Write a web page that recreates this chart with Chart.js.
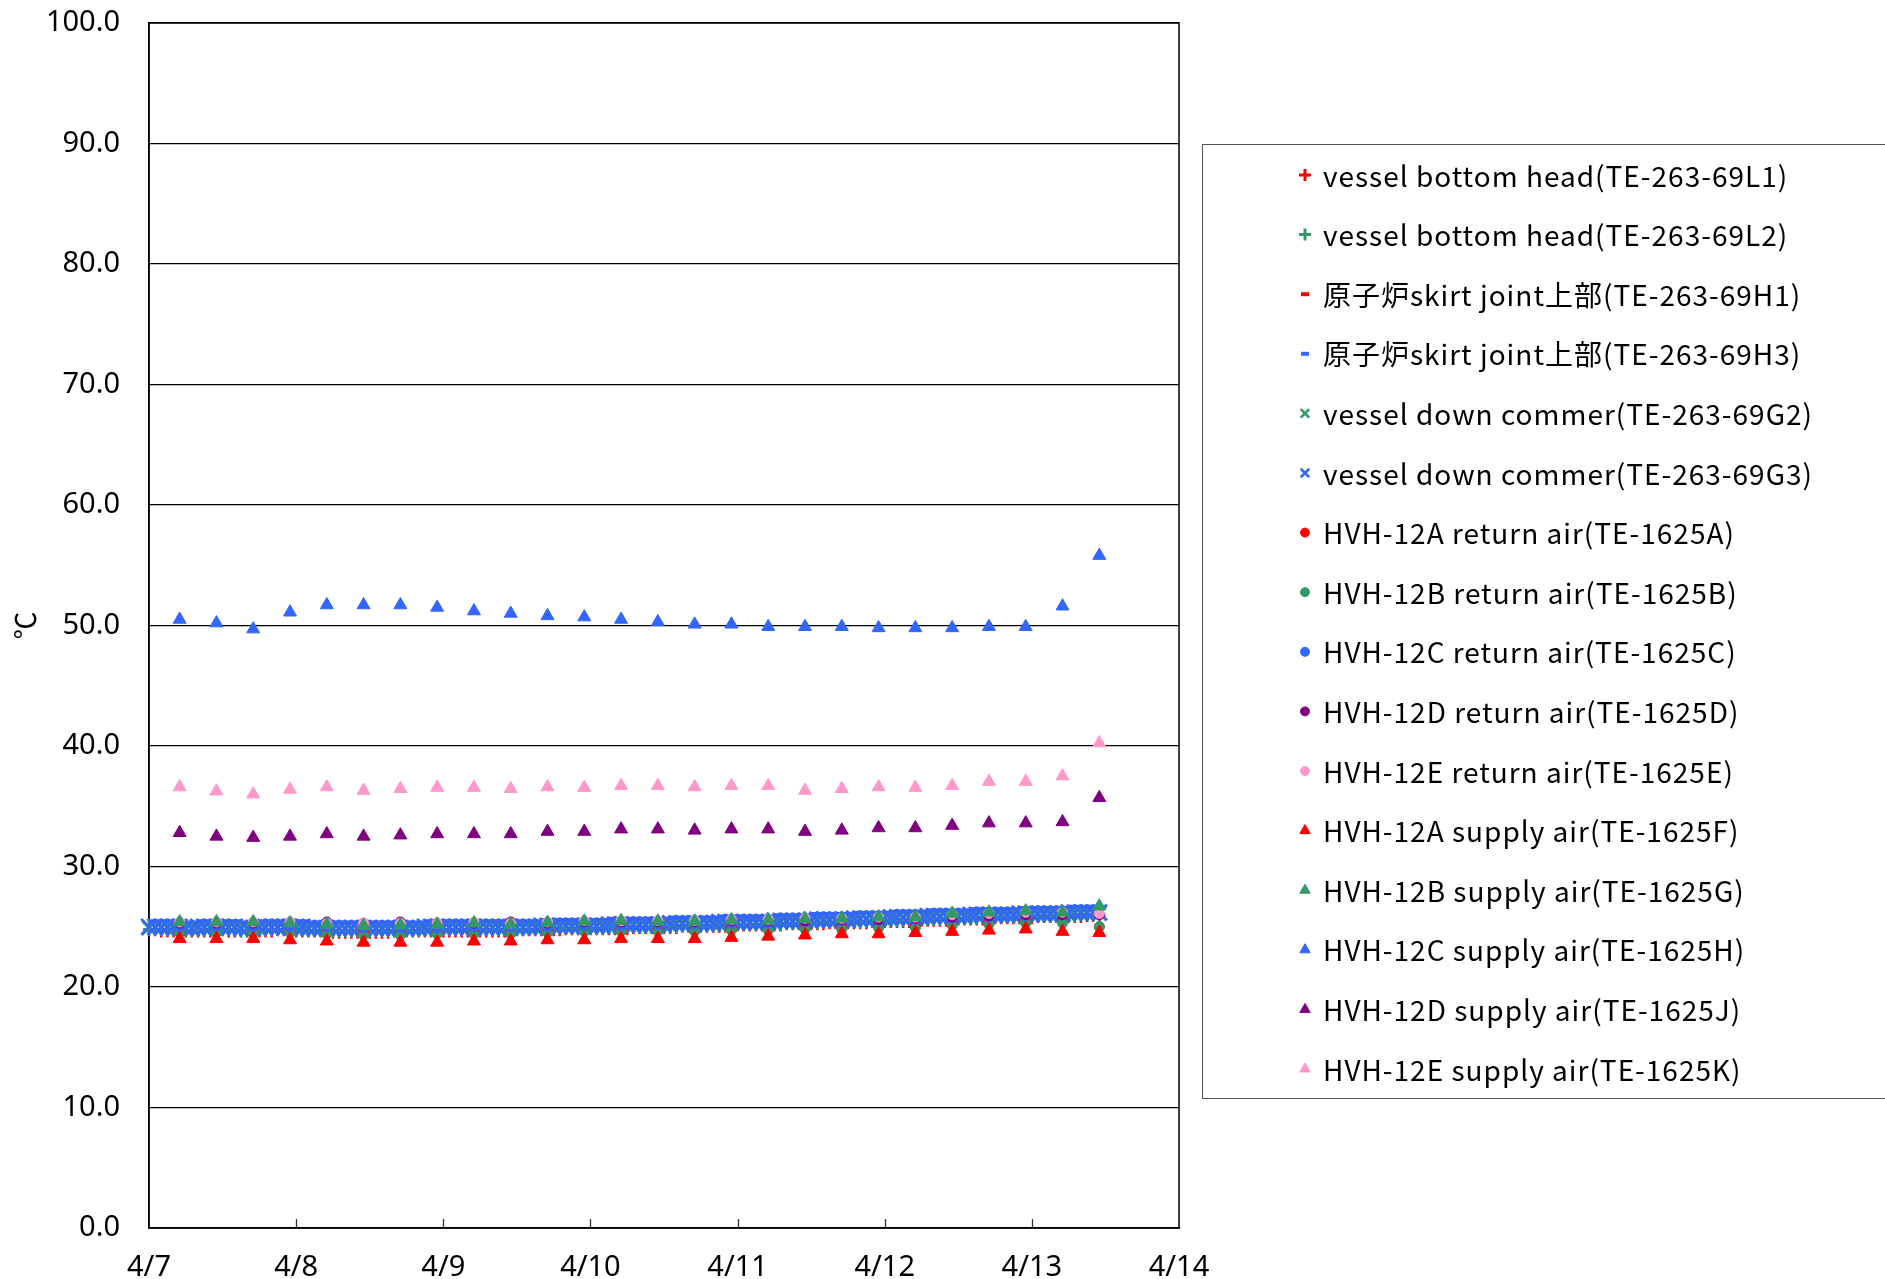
<!DOCTYPE html>
<html><head><meta charset="utf-8">
<script src="https://cdn.jsdelivr.net/npm/chart.js@4.4.0/dist/chart.umd.min.js"></script>
<style>html,body{margin:0;padding:0;background:#fff;}#wrap{width:1885px;height:1279px;position:relative;}</style>
</head><body><div id="wrap"><canvas id="c" width="1885" height="1279"></canvas></div>
<script>
// ---- tick labels / categories ----
const dayLabels = ['4/7','4/8','4/9','4/10','4/11','4/12','4/13','4/14'];
const yTitle = '℃';
// sample times, hours after 4/7 0:00
const hoursHourly = [
 0,1,2,3,4,5,6,7,8,9,10,11,12,13,14,15,16,17,18,19,20,21,22,23,
 24,25,26,27,28,29,30,31,32,33,34,35,36,37,38,39,40,41,42,43,44,45,46,47,
 48,49,50,51,52,53,54,55,56,57,58,59,60,61,62,63,64,65,66,67,68,69,70,71,
 72,73,74,75,76,77,78,79,80,81,82,83,84,85,86,87,88,89,90,91,92,93,94,95,
 96,97,98,99,100,101,102,103,104,105,106,107,108,109,110,111,112,113,114,115,116,117,118,119,
 120,121,122,123,124,125,126,127,128,129,130,131,132,133,134,135,136,137,138,139,140,141,142,143,
 144,145,146,147,148,149,150,151,152,153,154,155];
const hours6h = [5,11,17,23,29,35,41,47,53,59,65,71,77,83,89,95,101,107,113,119,125,131,137,143,149,155];

// ---- series labels ----
const seriesLabels = [
 'vessel bottom head(TE-263-69L1)',
 'vessel bottom head(TE-263-69L2)',
 '原子炉skirt joint上部(TE-263-69H1)',
 '原子炉skirt joint上部(TE-263-69H3)',
 'vessel down commer(TE-263-69G2)',
 'vessel down commer(TE-263-69G3)',
 'HVH-12A return air(TE-1625A)',
 'HVH-12B return air(TE-1625B)',
 'HVH-12C return air(TE-1625C)',
 'HVH-12D return air(TE-1625D)',
 'HVH-12E return air(TE-1625E)',
 'HVH-12A supply air(TE-1625F)',
 'HVH-12B supply air(TE-1625G)',
 'HVH-12C supply air(TE-1625H)',
 'HVH-12D supply air(TE-1625J)',
 'HVH-12E supply air(TE-1625K)'
];

// ---- hourly series ----
const teL1 = [
 24.7,24.7,24.6,24.6,24.6,24.6,24.6,24.6,24.6,24.6,24.6,24.7, 24.7,24.6,24.6,24.6,24.6,24.6,24.6,24.6,24.6,24.7,24.7,24.7,
 24.6,24.6,24.6,24.6,24.6,24.5,24.5,24.5,24.5,24.5,24.5,24.5, 24.5,24.5,24.5,24.5,24.6,24.6,24.6,24.6,24.6,24.6,24.6,24.6,
 24.6,24.6,24.6,24.6,24.6,24.6,24.6,24.6,24.6,24.6,24.6,24.7, 24.7,24.7,24.7,24.7,24.7,24.7,24.7,24.7,24.8,24.8,24.8,24.8,
 24.8,24.8,24.8,24.8,24.8,24.8,24.8,24.9,24.9,24.9,24.9,24.9, 24.9,24.9,24.9,25.0,25.0,25.0,25.0,25.0,25.0,25.0,25.0,25.0,
 25.1,25.1,25.1,25.1,25.1,25.1,25.1,25.1,25.2,25.2,25.2,25.2, 25.2,25.2,25.2,25.3,25.3,25.3,25.3,25.3,25.3,25.3,25.4,25.4,
 25.4,25.4,25.4,25.4,25.4,25.5,25.5,25.5,25.5,25.5,25.5,25.6, 25.6,25.6,25.6,25.6,25.6,25.7,25.7,25.7,25.7,25.7,25.7,25.7,
 25.7,25.8,25.8,25.8,25.8,25.8,25.8,25.8,25.8,25.9,25.9,25.9];
const teL2 = [
 24.8,24.8,24.7,24.7,24.7,24.7,24.7,24.7,24.7,24.7,24.8,24.8, 24.8,24.8,24.7,24.7,24.7,24.7,24.7,24.7,24.8,24.8,24.8,24.8,
 24.7,24.7,24.7,24.7,24.7,24.7,24.6,24.6,24.6,24.6,24.6,24.6, 24.6,24.7,24.7,24.7,24.7,24.7,24.7,24.7,24.7,24.7,24.7,24.7,
 24.8,24.8,24.8,24.8,24.7,24.7,24.7,24.7,24.7,24.8,24.8,24.8, 24.8,24.8,24.8,24.8,24.8,24.8,24.9,24.9,24.9,24.9,24.9,24.9,
 24.9,24.9,24.9,24.9,24.9,25.0,25.0,25.0,25.0,25.0,25.0,25.0, 25.0,25.0,25.0,25.1,25.1,25.1,25.1,25.1,25.1,25.1,25.1,25.2,
 25.2,25.2,25.2,25.2,25.2,25.2,25.2,25.2,25.3,25.3,25.3,25.3, 25.3,25.3,25.4,25.4,25.4,25.4,25.4,25.4,25.4,25.4,25.5,25.5,
 25.5,25.5,25.5,25.5,25.6,25.6,25.6,25.6,25.6,25.6,25.7,25.7, 25.7,25.7,25.7,25.7,25.7,25.8,25.8,25.8,25.8,25.8,25.8,25.8,
 25.9,25.9,25.9,25.9,25.9,25.9,25.9,25.9,26.0,26.0,26.0,26.0];
const teH1 = [
 25.4,25.4,25.4,25.4,25.4,25.4,25.3,25.3,25.4,25.4,25.4,25.4, 25.4,25.4,25.4,25.3,25.3,25.3,25.4,25.4,25.4,25.4,25.4,25.4,
 25.4,25.4,25.3,25.3,25.3,25.3,25.3,25.3,25.3,25.3,25.3,25.3, 25.3,25.3,25.3,25.3,25.3,25.3,25.3,25.3,25.3,25.4,25.4,25.4,
 25.4,25.4,25.4,25.4,25.4,25.4,25.4,25.4,25.4,25.4,25.4,25.4, 25.4,25.4,25.4,25.4,25.5,25.5,25.5,25.5,25.5,25.5,25.5,25.5,
 25.5,25.5,25.5,25.6,25.6,25.6,25.6,25.6,25.6,25.6,25.6,25.6, 25.6,25.7,25.7,25.7,25.7,25.7,25.7,25.7,25.7,25.8,25.8,25.8,
 25.8,25.8,25.8,25.8,25.8,25.8,25.9,25.9,25.9,25.9,25.9,25.9, 26.0,26.0,26.0,26.0,26.0,26.0,26.0,26.1,26.1,26.1,26.1,26.1,
 26.1,26.2,26.2,26.2,26.2,26.2,26.2,26.3,26.3,26.3,26.3,26.3, 26.3,26.3,26.4,26.4,26.4,26.4,26.4,26.4,26.4,26.4,26.5,26.5,
 26.5,26.5,26.5,26.5,26.5,26.5,26.6,26.6,26.6,26.6,26.6,26.6];
const teH3 = [
 25.5,25.5,25.5,25.5,25.5,25.5,25.4,25.4,25.5,25.5,25.5,25.5, 25.5,25.5,25.5,25.4,25.4,25.4,25.5,25.5,25.5,25.5,25.5,25.5,
 25.5,25.5,25.4,25.4,25.4,25.4,25.4,25.4,25.4,25.4,25.4,25.4, 25.4,25.4,25.4,25.4,25.4,25.4,25.4,25.4,25.4,25.5,25.5,25.5,
 25.5,25.5,25.5,25.5,25.5,25.5,25.5,25.5,25.5,25.5,25.5,25.5, 25.5,25.5,25.5,25.5,25.6,25.6,25.6,25.6,25.6,25.6,25.6,25.6,
 25.6,25.6,25.6,25.7,25.7,25.7,25.7,25.7,25.7,25.7,25.7,25.7, 25.7,25.8,25.8,25.8,25.8,25.8,25.8,25.8,25.8,25.9,25.9,25.9,
 25.9,25.9,25.9,25.9,25.9,25.9,26.0,26.0,26.0,26.0,26.0,26.0, 26.1,26.1,26.1,26.1,26.1,26.1,26.1,26.2,26.2,26.2,26.2,26.2,
 26.2,26.3,26.3,26.3,26.3,26.3,26.3,26.4,26.4,26.4,26.4,26.4, 26.4,26.4,26.5,26.5,26.5,26.5,26.5,26.5,26.5,26.5,26.6,26.6,
 26.6,26.6,26.6,26.6,26.6,26.6,26.7,26.7,26.7,26.7,26.7,26.7];
const teG2 = [
 24.9,24.9,24.9,24.9,24.8,24.8,24.8,24.8,24.8,24.9,24.9,24.9, 24.9,24.9,24.9,24.8,24.8,24.8,24.8,24.9,24.9,24.9,24.9,24.9,
 24.9,24.8,24.8,24.8,24.8,24.8,24.8,24.8,24.8,24.8,24.8,24.8, 24.8,24.8,24.8,24.8,24.8,24.8,24.8,24.8,24.8,24.8,24.9,24.9,
 24.9,24.9,24.9,24.9,24.9,24.9,24.9,24.9,24.9,24.9,24.9,24.9, 24.9,24.9,24.9,24.9,24.9,25.0,25.0,25.0,25.0,25.0,25.0,25.0,
 25.0,25.0,25.0,25.0,25.1,25.1,25.1,25.1,25.1,25.1,25.1,25.1, 25.1,25.1,25.2,25.2,25.2,25.2,25.2,25.2,25.2,25.2,25.3,25.3,
 25.3,25.3,25.3,25.3,25.3,25.3,25.3,25.4,25.4,25.4,25.4,25.4, 25.4,25.5,25.5,25.5,25.5,25.5,25.5,25.5,25.6,25.6,25.6,25.6,
 25.6,25.6,25.7,25.7,25.7,25.7,25.7,25.7,25.8,25.8,25.8,25.8, 25.8,25.8,25.8,25.9,25.9,25.9,25.9,25.9,25.9,25.9,25.9,26.0,
 26.0,26.0,26.0,26.0,26.0,26.0,26.0,26.1,26.1,26.1,26.1,26.1];
const teG3 = [
 25.0,25.0,25.0,25.0,25.0,25.0,24.9,24.9,25.0,25.0,25.0,25.0, 25.0,25.0,25.0,24.9,24.9,24.9,25.0,25.0,25.0,25.0,25.0,25.0,
 25.0,25.0,24.9,24.9,24.9,24.9,24.9,24.9,24.9,24.9,24.9,24.9, 24.9,24.9,24.9,24.9,24.9,24.9,24.9,24.9,24.9,25.0,25.0,25.0,
 25.0,25.0,25.0,25.0,25.0,25.0,25.0,25.0,25.0,25.0,25.0,25.0, 25.0,25.0,25.0,25.0,25.1,25.1,25.1,25.1,25.1,25.1,25.1,25.1,
 25.1,25.1,25.1,25.2,25.2,25.2,25.2,25.2,25.2,25.2,25.2,25.2, 25.2,25.3,25.3,25.3,25.3,25.3,25.3,25.3,25.3,25.4,25.4,25.4,
 25.4,25.4,25.4,25.4,25.4,25.4,25.5,25.5,25.5,25.5,25.5,25.5, 25.6,25.6,25.6,25.6,25.6,25.6,25.6,25.7,25.7,25.7,25.7,25.7,
 25.7,25.8,25.8,25.8,25.8,25.8,25.8,25.9,25.9,25.9,25.9,25.9, 25.9,25.9,26.0,26.0,26.0,26.0,26.0,26.0,26.0,26.0,26.1,26.1,
 26.1,26.1,26.1,26.1,26.1,26.1,26.2,26.2,26.2,26.2,26.2,26.2];

// ---- 6-hourly series ----
const retA = [24.5,24.5,24.5,24.6,24.5,24.5,24.5,24.5,24.5,24.5,24.6,24.7,24.7,24.8,24.8,24.9,24.9,25.0,25.0,25.1,25.1,25.3,25.4,25.5,25.5,25.0];
const retB = [24.5,24.5,24.5,24.5,24.4,24.3,24.3,24.4,24.4,24.4,24.5,24.6,24.6,24.6,24.6,24.7,24.7,24.8,24.8,24.9,24.9,25.1,25.2,25.3,25.3,25.0];
const retC = [25.0,25.0,25.0,25.0,25.0,24.9,24.9,24.9,25.0,25.0,25.0,25.1,25.1,25.2,25.2,25.3,25.3,25.4,25.5,25.5,25.6,25.7,25.8,25.9,26.0,26.0];
const retD = [25.3,25.3,25.3,25.4,25.4,25.3,25.4,25.3,25.3,25.4,25.3,25.4,25.4,25.4,25.4,25.5,25.5,25.5,25.6,25.6,25.7,25.8,25.9,26.0,26.0,26.0];
const retE = [25.4,25.4,25.4,25.4,25.3,25.3,25.3,25.3,25.4,25.3,25.4,25.5,25.5,25.5,25.5,25.6,25.6,25.7,25.7,25.8,25.8,26.0,26.1,26.2,26.2,26.1];
const supA = [24.0,24.0,24.0,23.9,23.8,23.7,23.7,23.7,23.8,23.8,23.9,23.9,24.0,24.0,24.0,24.1,24.2,24.3,24.4,24.4,24.5,24.6,24.7,24.8,24.6,24.5];
const supB = [25.4,25.4,25.4,25.3,25.2,25.1,25.15,25.2,25.3,25.2,25.35,25.45,25.5,25.45,25.45,25.55,25.55,25.65,25.7,25.8,25.8,26.1,26.2,26.3,26.2,26.7];
const supC = [50.5,50.2,49.7,51.1,51.7,51.7,51.7,51.5,51.2,51.0,50.8,50.7,50.5,50.3,50.1,50.1,49.9,49.9,49.9,49.8,49.8,49.8,49.9,49.9,51.6,55.8];
const supD = [32.8,32.5,32.4,32.5,32.7,32.5,32.6,32.7,32.7,32.7,32.9,32.9,33.1,33.1,33.0,33.1,33.1,32.9,33.0,33.2,33.2,33.4,33.6,33.6,33.7,35.7];
const supE = [36.6,36.25,36.0,36.4,36.6,36.3,36.45,36.55,36.55,36.45,36.6,36.55,36.7,36.7,36.6,36.7,36.7,36.3,36.45,36.6,36.55,36.7,37.05,37.05,37.5,40.25];

// ---- styling ----
const RED = '#FF0000', GREEN = '#339966', BLUE = '#3366FF', PURPLE = '#800080', PINK = '#FF99CC';
const seriesDefs = [
 {vals: teL1, t: hoursHourly, color: RED,    style: 'cross',    r: 6, bw: 2.5},
 {vals: teL2, t: hoursHourly, color: GREEN,  style: 'cross',    r: 6, bw: 2.5},
 {vals: teH1, t: hoursHourly, color: RED,    style: 'dash',     r: 6, bw: 3},
 {vals: teH3, t: hoursHourly, color: BLUE,   style: 'dash',     r: 6, bw: 3},
 {vals: teG2, t: hoursHourly, color: GREEN,  style: 'crossRot', r: 10, bw: 2.5},
 {vals: teG3, t: hoursHourly, color: BLUE,   style: 'crossRot', r: 11, bw: 2.5},
 {vals: retA, t: hours6h, color: RED,    style: 'circle', r: 5, bw: 1},
 {vals: retB, t: hours6h, color: GREEN,  style: 'circle', r: 5, bw: 1},
 {vals: retC, t: hours6h, color: BLUE,   style: 'circle', r: 5, bw: 1},
 {vals: retD, t: hours6h, color: PURPLE, style: 'circle', r: 5, bw: 1},
 {vals: retE, t: hours6h, color: PINK,   style: 'circle', r: 5, bw: 1},
 {vals: supA, t: hours6h, color: RED,    style: 'triangle', r: 7.5, bw: 1},
 {vals: supB, t: hours6h, color: GREEN,  style: 'triangle', r: 7.5, bw: 1},
 {vals: supC, t: hours6h, color: BLUE,   style: 'triangle', r: 7.5, bw: 1},
 {vals: supD, t: hours6h, color: PURPLE, style: 'triangle', r: 7.5, bw: 1},
 {vals: supE, t: hours6h, color: PINK,   style: 'triangle', r: 7.5, bw: 1}
];
// legend marker [radius, lineWidth, xShift]
const legendMarks = {cross: [6, 3, 0], dash: [8, 4, -4], crossRot: [6, 2.5, 0], circle: [4.5, 1, 0], triangle: [6, 1, 0]};

const N = seriesDefs.length;
const datasets = seriesDefs.map((d, i) => ({
  label: seriesLabels[i],
  data: d.t.map((h, k) => ({x: h, y: d.vals[k]})),
  showLine: false,
  pointStyle: d.style,
  pointRadius: d.r,
  pointHoverRadius: d.r,
  pointBorderWidth: d.bw,
  borderColor: d.color,
  backgroundColor: d.color,
  pointBackgroundColor: d.color,
  pointBorderColor: d.color,
  clip: false,
  order: N - i
}));

const TICK_FONT = {family: "'Noto Sans', sans-serif", size: 29};
const LEGEND_FONT = "28px 'Noto Sans CJK JP', 'Noto Sans', sans-serif";

const framePlugin = {
  id: 'frame',
  beforeDatasetsDraw(chart) {
    const {ctx, chartArea: a} = chart;
    const xs = chart.scales.x;
    ctx.save();
    ctx.strokeStyle = '#000';
    ctx.lineWidth = 1.5;
    ctx.strokeRect(a.left, a.top, a.right - a.left, a.bottom - a.top);
    ctx.lineWidth = 1.3;
    ctx.strokeStyle = '#333';
    xs.ticks.forEach(t => {
      const px = xs.getPixelForValue(t.value);
      if (px <= a.left + 1 || px >= a.right - 1) return;
      ctx.beginPath();
      ctx.moveTo(Math.round(px) + 0.5, a.bottom);
      ctx.lineTo(Math.round(px) + 0.5, a.bottom - 9);
      ctx.stroke();
    });
    ctx.restore();
  }
};

const boxLegendPlugin = {
  id: 'boxLegend',
  afterDraw(chart) {
    const ctx = chart.ctx;
    const a = chart.chartArea;
    const boxLeft = a.right + 23, boxTop = 144, boxBottom = 1098;
    const firstY = 175, stepY = (1069 - 175) / (N - 1);
    ctx.save();
    ctx.strokeStyle = '#555';
    ctx.lineWidth = 1;
    ctx.strokeRect(Math.round(boxLeft) + 0.5, boxTop + 0.5, 1000, boxBottom - boxTop);
    chart.data.datasets.forEach((ds, i) => {
      const y = firstY + i * stepY;
      const [mr, mw, mx] = legendMarks[ds.pointStyle];
      ctx.fillStyle = ds.pointBackgroundColor;
      ctx.strokeStyle = ds.pointBorderColor;
      ctx.lineWidth = mw;
      Chart.helpers.drawPoint(ctx, {pointStyle: ds.pointStyle, radius: mr, rotation: 0, borderWidth: mw}, boxLeft + 103 + mx, y);
      ctx.fillStyle = '#000';
      ctx.font = LEGEND_FONT;
      if ('letterSpacing' in ctx) ctx.letterSpacing = '1px';
      ctx.textBaseline = 'middle';
      ctx.textAlign = 'left';
      ctx.fillText(ds.label, boxLeft + 121, y + 1);
      if ('letterSpacing' in ctx) ctx.letterSpacing = '0px';
    });
    ctx.restore();
  }
};

new Chart(document.getElementById('c'), {
  type: 'scatter',
  data: {datasets},
  options: {
    responsive: false,
    animation: false,
    events: [],
    layout: {padding: {left: 0, top: 0, right: 706, bottom: 0}},
    plugins: {legend: {display: false}, tooltip: {enabled: false}},
    scales: {
      x: {
        type: 'linear', min: 0, max: 168,
        afterFit(s) { s.height = 51; },
        afterBuildTicks(s) { s.ticks = dayLabels.map((_, i) => ({value: i * 24})); },
        ticks: {
          callback: (v) => dayLabels[Math.round(v / 24)],
          color: '#000', font: TICK_FONT, padding: 22, maxRotation: 0, autoSkip: false
        },
        grid: {display: true, drawOnChartArea: false, drawTicks: false},
        border: {display: true, color: '#000', width: 1.5}
      },
      y: {
        min: 0, max: 100,
        afterFit(s) { s.width = 149; s.paddingTop = 23; s.paddingBottom = 0; },
        ticks: {stepSize: 10, callback: (v) => v.toFixed(1), color: '#000', font: TICK_FONT, padding: 29},
        grid: {color: '#000', lineWidth: 1.3, drawTicks: false},
        border: {display: true, color: '#000', width: 1.5},
        title: {display: true, text: yTitle, color: '#000',
                font: {family: "'Noto Sans CJK JP', 'Noto Sans', sans-serif", size: 28}, padding: {top: 9, bottom: 0}}
      }
    }
  },
  plugins: [framePlugin, boxLegendPlugin]
});
</script>
</body></html>
